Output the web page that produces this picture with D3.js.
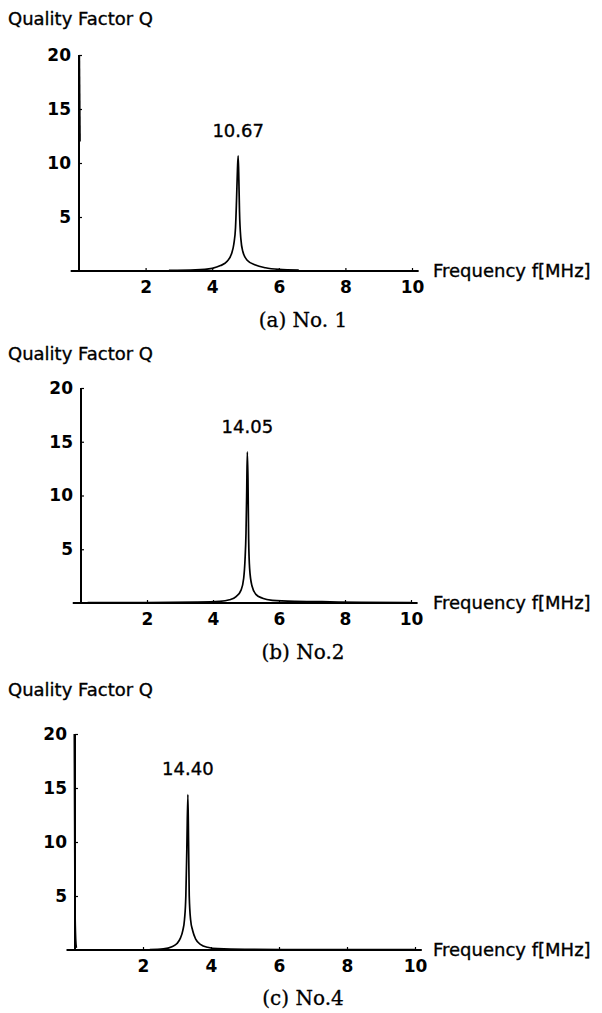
<!DOCTYPE html>
<html>
<head>
<meta charset="utf-8">
<script src="https://cdn.jsdelivr.net/npm/d3@7"></script>
<style>
  html, body { margin: 0; padding: 0; background: #fff; }
  svg { display: block; }
  .title, .peak, .xname { font-family: "DejaVu Sans", sans-serif; font-size: 18px; fill: #000; stroke: #000; stroke-width: 0.35px; }
  .tick text { font-family: "DejaVu Sans", sans-serif; font-size: 17px; font-weight: bold; fill: #000; }
  .caption { font-family: "DejaVu Serif", serif; font-size: 20px; fill: #000; stroke: #000; stroke-width: 0.3px; }
</style>
</head>
<body>
<svg id="chart" width="602" height="1013"></svg>
<script>
// Axis ticks
const freqTicks = [2, 4, 6, 8, 10];
const qTicks = [5, 10, 15, 20];

// Panel texts
const yTitle = "Quality Factor Q";
const xTitle = "Frequency f[MHz]";
const captions = ["(a) No. 1", "(b) No.2", "(c) No.4"];

// Resonance peaks
const peakFreqs = [4.78, 5.04, 3.32];
const peakQ = [10.67, 14.05, 14.40];
const peakLabels = ["10.67", "14.05", "14.40"];

// Q(f) curves, No. 1
const no1Freq = [2.7, 3.5, 4.0, 4.25, 4.45, 4.58, 4.65, 4.70, 4.73, 4.76, 4.78, 4.80, 4.82, 4.86, 4.92, 5.05, 5.3, 5.6, 6.0, 6.6];
const no1Q    = [0.05, 0.1, 0.25, 0.5, 0.9, 1.6, 2.5, 4.0, 6.5, 9.5, 10.67, 8.5, 5.5, 3.0, 1.8, 1.0, 0.55, 0.3, 0.15, 0.08];
const no1LowFreq = [0.01, 0.02, 0.03];
const no1LowQ    = [20, 16, 12];

// No. 2
const no2Freq = [0.2, 2.0, 3.5, 4.2, 4.5, 4.7, 4.85, 4.93, 4.97, 5.00, 5.02, 5.04, 5.06, 5.08, 5.11, 5.18, 5.3, 5.5, 5.8, 6.5, 7.3, 8.5, 10];
const no2Q    = [0.03, 0.04, 0.08, 0.15, 0.3, 0.6, 1.2, 2.3, 4.0, 6.5, 10, 14.05, 11.5, 6.0, 3.2, 1.6, 0.8, 0.45, 0.25, 0.15, 0.12, 0.06, 0.04];

// No. 4
const no4Freq = [2.2, 2.6, 2.85, 3.0, 3.1, 3.17, 3.22, 3.26, 3.29, 3.32, 3.34, 3.36, 3.40, 3.46, 3.55, 3.7, 3.9, 4.2, 5.0, 7.0, 10];
const no4Q    = [0.04, 0.1, 0.3, 0.6, 1.1, 1.8, 2.8, 5.0, 9.5, 14.4, 10, 5.0, 2.8, 1.8, 1.0, 0.5, 0.25, 0.12, 0.06, 0.04, 0.03];
const no4LowFreq = [-0.02, -0.01, 0.0, 0.02, 0.04];
const no4LowQ    = [20, 12, 4, 1, 0.2];

const series = [
  [[no1Freq, no1Q], [no1LowFreq, no1LowQ]],
  [[no2Freq, no2Q]],
  [[no4Freq, no4Q], [no4LowFreq, no4LowQ]]
];

// Pixel layout of the three stacked panels
const layout = [
  { left: 79, right: 412, bottom: 271, top: 55,  titleY: 25,  capX: 303, capY: 327 },
  { left: 81, right: 411, bottom: 603, top: 388, titleY: 360, capX: 303, capY: 659 },
  { left: 75, right: 415, bottom: 950, top: 734, titleY: 696, capX: 303, capY: 1005 }
];

const svg = d3.select("#chart");

layout.forEach((L, i) => {
  const x = d3.scaleLinear().domain([0, 10]).range([L.left, L.right]);
  const y = d3.scaleLinear().domain([0, 20]).range([L.bottom, L.top]);
  const g = svg.append("g");

  // y title
  g.append("text").attr("class", "title")
    .attr("x", 8).attr("y", L.titleY).text(yTitle);

  // x axis
  const xAxis = d3.axisBottom(x).tickValues(freqTicks)
    .tickSizeInner(-3).tickSizeOuter(0).tickPadding(6);
  const gx = g.append("g").attr("transform", `translate(0,${L.bottom})`).call(xAxis);
  gx.select(".domain").remove();
  gx.selectAll(".tick line").attr("stroke", "#000").attr("stroke-width", 1.2);
  gx.selectAll(".tick text").attr("dy", "0.95em");
  g.append("line")
    .attr("x1", x(-0.25)).attr("x2", x(10.2))
    .attr("y1", L.bottom).attr("y2", L.bottom)
    .attr("stroke", "#000").attr("stroke-width", 2);

  // y axis
  const yAxis = d3.axisLeft(y).tickValues(qTicks)
    .tickSizeInner(-3).tickSizeOuter(0).tickPadding(8);
  const gy = g.append("g").attr("transform", `translate(${L.left},0)`).call(yAxis);
  gy.select(".domain").remove();
  gy.selectAll(".tick line").attr("stroke", "#000").attr("stroke-width", 1.2);
  g.append("line")
    .attr("x1", L.left).attr("x2", L.left)
    .attr("y1", L.bottom).attr("y2", y(20))
    .attr("stroke", "#000").attr("stroke-width", 2);

  // x title
  g.append("text").attr("class", "xname")
    .attr("x", 433).attr("y", L.bottom + 6).text(xTitle);

  // curves
  const line = d3.line()
    .x(d => x(d[0])).y(d => y(d[1]))
    .curve(d3.curveMonotoneX);
  series[i].forEach(([fs, qs]) => {
    const pts = fs.map((f, k) => [f, qs[k]]);
    g.append("path").datum(pts)
      .attr("d", line)
      .attr("fill", "none").attr("stroke", "#000")
      .attr("stroke-width", 1.7).attr("stroke-linejoin", "round");
  });

  // peak label
  g.append("text").attr("class", "peak")
    .attr("x", x(peakFreqs[i])).attr("y", y(peakQ[i]) - 19)
    .attr("text-anchor", "middle").text(peakLabels[i]);

  // caption
  g.append("text").attr("class", "caption")
    .attr("x", L.capX).attr("y", L.capY)
    .attr("text-anchor", "middle").text(captions[i]);
});
</script>
</body>
</html>
